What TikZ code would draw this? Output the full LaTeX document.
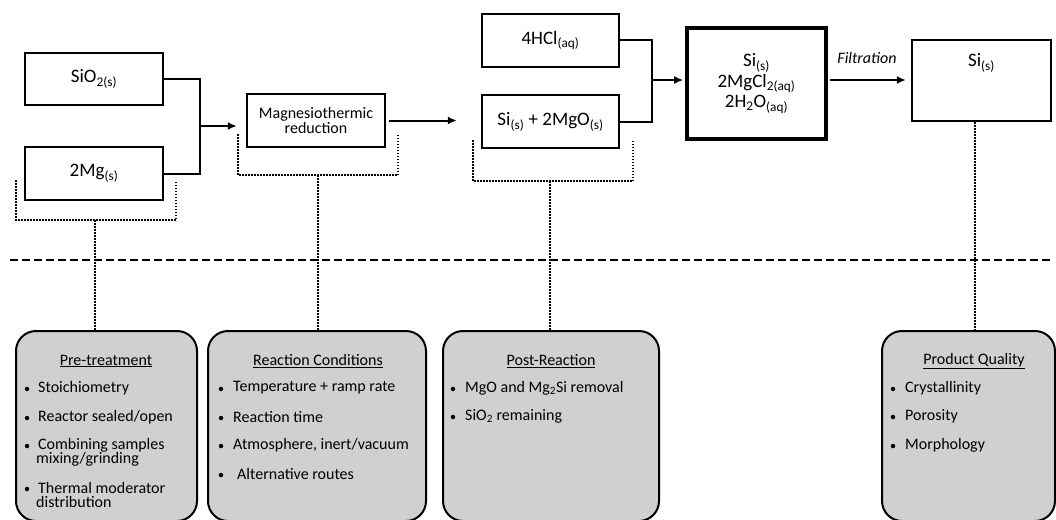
\documentclass[tikz,border=0pt]{standalone}
\usepackage{fontspec}
\setmainfont{Carlito}
\usetikzlibrary{arrows.meta,calc}
\definecolor{boxgray}{RGB}{208,208,208}
\begin{document}
\begin{tikzpicture}[x=1pt,y=-1pt,
  box/.style={draw, line width=2.4pt, inner sep=0pt, align=center, font=\fontsize{19}{22}\selectfont},
  conn/.style={line width=2pt},
  arr/.style={line width=2pt, -{Latex[length=9pt,width=8pt]}},
  dotl/.style={line width=1.8pt, dash pattern=on 1.5pt off 1.5pt},
  gbox/.style={draw, fill=boxgray, line width=2pt, rounded corners=20pt, minimum height=190pt, inner sep=0pt},
  ttl/.style={font=\fontsize{16}{18}\selectfont, inner sep=0pt},
  item/.style={anchor=west, inner sep=0pt, align=left, font=\fontsize{16}{14}\selectfont},
  bul/.style={circle, fill=black, minimum size=4.5pt, inner sep=0pt}
]
\useasboundingbox (0,0) rectangle (1056,519);
\clip (0,0) rectangle (1056,519);

% top row boxes
\node[box, minimum width=138pt, minimum height=52pt] (sio2) at (94,79) {SiO\textsubscript{2(s)}};
\node[box, minimum width=138pt, minimum height=53pt] (mg) at (94,173.5) {2Mg\textsubscript{(s)}};
\node[box, minimum width=138pt, minimum height=53pt, font=\fontsize{16}{12}\selectfont] (mag) at (316,120.5) {Magnesiothermic\\reduction};
\node[box, minimum width=137pt, minimum height=53pt] (hcl) at (550.5,40.5) {4HCl\textsubscript{(aq)}};
\node[box, minimum width=137pt, minimum height=53pt] (simgo) at (550.5,121.5) {Si\textsubscript{(s)} + 2MgO\textsubscript{(s)}};
\node[box, line width=3.6pt, minimum width=139pt, minimum height=111pt, font=\fontsize{19}{20.5}\selectfont] (mix) at (756.5,83.5) {Si\textsubscript{(s)}\\2MgCl\textsubscript{2(aq)}\\2H\textsubscript{2}O\textsubscript{(aq)}};
\node[box, minimum width=139pt, minimum height=81pt] (si) at (981.5,80.5) {};
\node[font=\fontsize{19}{22}\selectfont, inner sep=0pt] (silab) at (981.5,63) {Si\textsubscript{(s)}};
\node[font=\fontsize{16}{18}\itshape, inner sep=0pt] (filt) at (867,58) {Filtration};

% connectors
\coordinate (j1) at (200,126);
\draw[conn] (sio2.east) -| (j1) |- (mg.east);
\draw[arr, shorten >=9pt] (j1) -- (j1 -| mag.west);
\draw[arr, shorten <=3pt, shorten >=24pt] (mag.east) -- (mag.east -| simgo.west);
\coordinate (j2) at (652,80);
\draw[conn] (hcl.east) -| (j2) |- (simgo.east);
\draw[arr, shorten >=2pt] (j2) -- (j2 -| mix.west);
\coordinate (fy) at (0,80);
\draw[arr, shorten <=2pt, shorten >=5pt] (mix.east |- fy) -- (si.west |- fy);

% dashed separator
\coordinate (dl) at (10,260);
\coordinate (dr) at (1052,260);
\draw[line width=2.2pt, dash pattern=on 8pt off 4pt] (dl) -- (dr);

% gray boxes
\node[gbox, minimum width=181pt] (pre) at (106.5,426) {};
\node[gbox, minimum width=218pt] (rc) at (317,426) {};
\node[gbox, minimum width=216pt] (pr) at (551,426) {};
\node[gbox, minimum width=173pt] (pq) at (968.5,426) {};

% dotted brackets
\coordinate (b1a) at (16,180);
\coordinate (b1b) at (176,180);
\coordinate (b1m) at (95,220);
\draw[dotl] (b1a) |- (b1m) -| (b1b);
\draw[dotl] (b1m) -- (b1m |- pre.north);
\coordinate (b2a) at (238,134);
\coordinate (b2b) at (398,134);
\coordinate (b2m) at (318,175);
\draw[dotl] (b2a) |- (b2m) -| (b2b);
\draw[dotl] (b2m) -- (b2m |- rc.north);
\coordinate (b3a) at (473,140);
\coordinate (b3b) at (633,140);
\coordinate (b3m) at (550,181);
\draw[dotl] (b3a) |- (b3m) -| (b3b);
\draw[dotl] (b3m) -- (b3m |- pr.north);
\coordinate (b4) at (975,122);
\draw[dotl] (b4) -- (b4 |- pq.north);

% titles
\node[ttl] (t1) at (106,361) {\underline{Pre-treatment}};
\node[ttl] (t2) at (318,361) {\underline{Reaction Conditions}};
\node[ttl] (t3) at (551,361) {\underline{Post-Reaction}};
\node[ttl] (t4) at (974,361) {\underline{Product Quality}};

% pre-treatment items
\node[bul] (p1b) at (27,389) {};
\node[item] (p1) at (38,388) {Stoichiometry};
\node[bul] (p2b) at (27,418) {};
\node[item] (p2) at (38,417) {Reactor sealed/open};
\node[bul] (p3b) at (27,446) {};
\node[item] (p3) at (38,452) {Combining samples\\\hspace*{-2pt}mixing/grinding};
\node[bul] (p4b) at (27,489) {};
\node[item] (p4) at (38,495) {Thermal moderator\\\hspace*{-2pt}distribution};

% reaction conditions items
\node[bul] (r1b) at (221,389) {};
\node[item] (r1) at (233,388) {Temperature + ramp rate};
\node[bul] (r2b) at (221,418) {};
\node[item] (r2) at (233,417) {Reaction time};
\node[bul] (r3b) at (221,446) {};
\node[item] (r3) at (233,445) {Atmosphere, inert/vacuum};
\node[bul] (r4b) at (221,475) {};
\node[item] (r4) at (237,474) {Alternative routes};

% post-reaction items
\node[bul] (s1b) at (453,389) {};
\node[item] (s1) at (465,388) {MgO and Mg\textsubscript{2}Si removal};
\node[bul] (s2b) at (453,417) {};
\node[item] (s2) at (465,416) {SiO\textsubscript{2} remaining};

% product quality items
\node[bul] (q1b) at (893,389) {};
\node[item] (q1) at (905,388) {Crystallinity};
\node[bul] (q2b) at (893,417) {};
\node[item] (q2) at (905,416) {Porosity};
\node[bul] (q3b) at (893,446) {};
\node[item] (q3) at (905,445) {Morphology};
\end{tikzpicture}
\end{document}
